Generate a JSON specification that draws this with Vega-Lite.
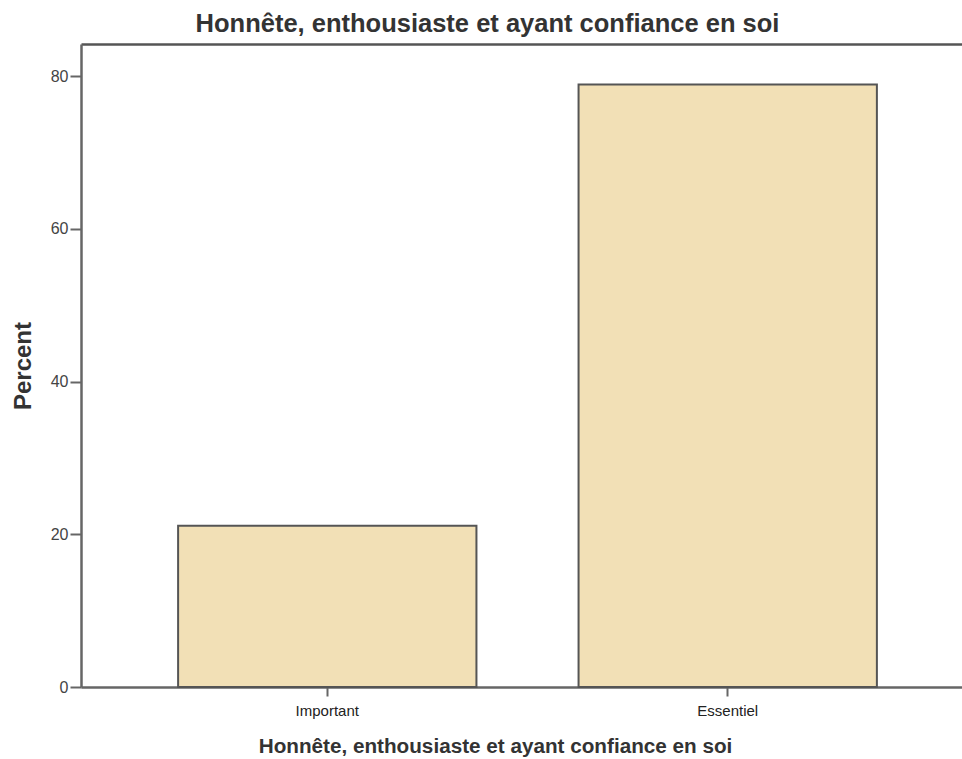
{
  "$schema": "https://vega.github.io/schema/vega-lite/v6.json",
  "autosize": "none",
  "padding": {"left": 81, "top": 44, "right": 0, "bottom": 72},
  "width": 881,
  "height": 643,
  "background": "white",
  "title": {
    "text": "Honnête, enthousiaste et ayant confiance en soi",
    "font": "Liberation Sans",
    "fontSize": 25.5,
    "fontWeight": "bold",
    "color": "#333333",
    "anchor": "middle",
    "dx": -34,
    "offset": 7
  },
  "data": {
    "values": [
      {"category": "Important", "percent": 21.1},
      {"category": "Essentiel", "percent": 78.9}
    ]
  },
  "encoding": {
    "y": {
      "field": "percent",
      "type": "quantitative",
      "scale": {"domain": [0, 84.2], "nice": false},
      "axis": {
        "title": "Percent",
        "values": [0, 20, 40, 60, 80],
        "grid": false,
        "titleFont": "Liberation Sans",
        "titleFontSize": 24,
        "titleFontWeight": "bold",
        "titleColor": "#333333",
        "titlePadding": 15,
        "labelFont": "Liberation Sans",
        "labelFontSize": 16,
        "labelColor": "#444444",
        "labelPadding": 2,
        "domainColor": "#666666",
        "domainWidth": 2.5,
        "tickColor": "#666666",
        "tickWidth": 2,
        "tickSize": 11
      }
    }
  },
  "layer": [
    {
      "mark": {"type": "bar", "fill": "#f2e0b6", "stroke": "#555555", "strokeWidth": 2},
      "encoding": {
        "x": {
          "field": "category",
          "type": "nominal",
          "sort": ["Important", "Essentiel"],
          "scale": {"range": [0, 893], "paddingInner": 0.255, "paddingOuter": 0.2425},
          "axis": {
            "orient": "bottom",
            "title": "Honnête, enthousiaste et ayant confiance en soi",
            "titleFont": "Liberation Sans",
            "titleFontSize": 20.7,
            "titleFontWeight": "bold",
            "titleColor": "#333333",
            "titlePadding": 18,
            "titleX": 414,
            "titleAnchor": "middle",
            "labelFont": "Liberation Sans",
            "labelFontSize": 15,
            "labelColor": "#222222",
            "labelAngle": 0,
            "labelPadding": 7,
            "domainColor": "#666666",
            "domainWidth": 2.5,
            "tickColor": "#666666",
            "tickWidth": 2,
            "tickSize": 9
          }
        }
      }
    },
    {
      "mark": {"type": "bar", "opacity": 0},
      "encoding": {
        "x": {
          "field": "category",
          "type": "nominal",
          "sort": ["Important", "Essentiel"],
          "axis": {
            "orient": "top",
            "title": null,
            "labels": false,
            "ticks": false,
            "domainColor": "#555555",
            "domainWidth": 2.5
          }
        }
      }
    }
  ],
  "resolve": {"axis": {"x": "independent"}},
  "config": {
    "view": {"stroke": null}
  }
}
